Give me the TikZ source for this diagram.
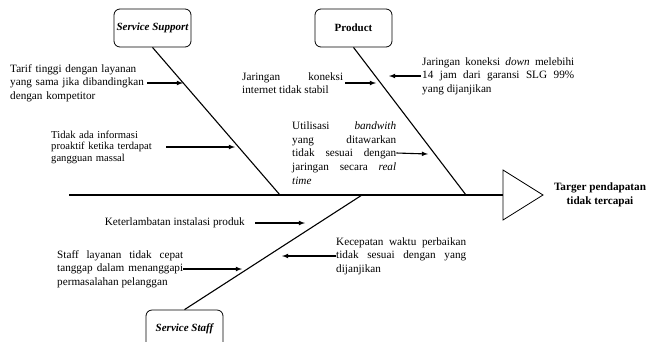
\documentclass[tikz,border=0pt]{standalone}
\usepackage{fontspec}
\setmainfont{Liberation Serif}
\usepackage{tikz}
\tolerance=10000
\hbadness=10000

\begin{document}
\begin{tikzpicture}[x=1pt,y=-1pt]
    \tikzstyle{category}=[rectangle, draw, rounded corners=6pt, line width=0.8pt, minimum width=77pt, minimum height=38pt, inner sep=0pt, font=\fontsize{11}{12}\selectfont\bfseries]
    \tikzstyle{cause}=[inner sep=0pt, font=\fontsize{11.2}{13.6}\selectfont]
    \tikzstyle{bone}=[draw, line width=1.1pt]
    \tikzstyle{cue}=[->, >=latex, line width=1.1pt]
    \useasboundingbox (0,0) rectangle (647,341);
    % spine and head
    \coordinate (tail) at (69,195);
    \coordinate (h0) at (503,195);
    \coordinate (h1) at (503,170);
    \coordinate (h2) at (543,195);
    \coordinate (h3) at (503,220);
    \draw[line width=0.8pt] (h1) -- (h2) -- (h3) -- cycle;
    \draw[bone] (tail) -- (h0);
    \node[font=\fontsize{11.2}{14}\selectfont\bfseries, align=center] (target) at (600,195) {Targer pendapatan\\tidak tercapai};
    % categories
    \node[category] (support) at (152.5,28) {\itshape Service Support};
    \node[category] (product) at (353.5,28) {Product};
    \node[category] (staff) at (184.5,329) {\itshape Service Staff};
    \coordinate (j1) at (280,195);
    \coordinate (j2) at (466,195);
    \coordinate (j3) at (362,195);
    \draw[bone] (support.south) -- (j1);
    \draw[bone] (product.south) -- (j2);
    \draw[bone] (staff.north) -- (j3);
    % causes
    \node[cause, anchor=west, text width=137pt, align=left] (tarif) at (10,83) {Tarif tinggi dengan layanan\\yang sama jika dibandingkan\\dengan kompetitor};
    \node[cause, anchor=west, text width=115pt, align=left, font=\fontsize{10.6}{11.5}\selectfont] (info) at (51,147) {Tidak ada informasi\\proaktif ketika terdapat\\gangguan massal};
    \node[cause, anchor=west, text width=101pt, align=justify] (koneksi) at (242,83) {Jaringan koneksi\linebreak internet tidak stabil};
    \node[cause, anchor=west, text width=152pt, align=justify] (down) at (422,76) {Jaringan koneksi \textit{down} melebihi\linebreak 14 jam dari garansi SLG 99\%\linebreak yang dijanjikan};
    \node[cause, anchor=west, text width=104pt, align=justify] (util) at (292,153) {Utilisasi \textit{bandwith}\linebreak yang ditawarkan\linebreak tidak sesuai dengan\linebreak jaringan secara \textit{real}\linebreak \textit{time}};
    \node[cause, anchor=east] (telat) at (245,223) {Keterlambatan instalasi produk};
    \node[cause, anchor=west, text width=126pt, align=justify] (tanggap) at (57,269) {Staff layanan tidak cepat\linebreak tanggap dalam menanggapi\linebreak permasalahan pelanggan};
    \node[cause, anchor=west, text width=130pt, align=justify] (waktu) at (336,256) {Kecepatan waktu perbaikan\linebreak tidak sesuai dengan yang\linebreak dijanjikan};
    % arrows to the bones
    \coordinate (a1) at (183,83);
    \coordinate (a2) at (235,147);
    \coordinate (a3) at (376,83);
    \coordinate (a4) at (389,76);
    \coordinate (a5) at (428,154);
    \coordinate (a6) at (305,223);
    \coordinate (a7) at (242,269);
    \coordinate (a8) at (282,256);
    \draw[cue] (tarif.east) -- (a1);
    \draw[cue] (info.east) -- (a2);
    \draw[cue, shorten <=2pt] (koneksi.east) -- (a3);
    \draw[cue, shorten <=1pt] (down.west) -- (a4);
    \draw[cue] (util.east) -- (a5);
    \draw[cue, shorten <=10pt] (telat.east) -- (a6);
    \draw[cue] (tanggap.east) -- (a7);
    \draw[cue] (waktu.west) -- (a8);
\end{tikzpicture}
\end{document}
